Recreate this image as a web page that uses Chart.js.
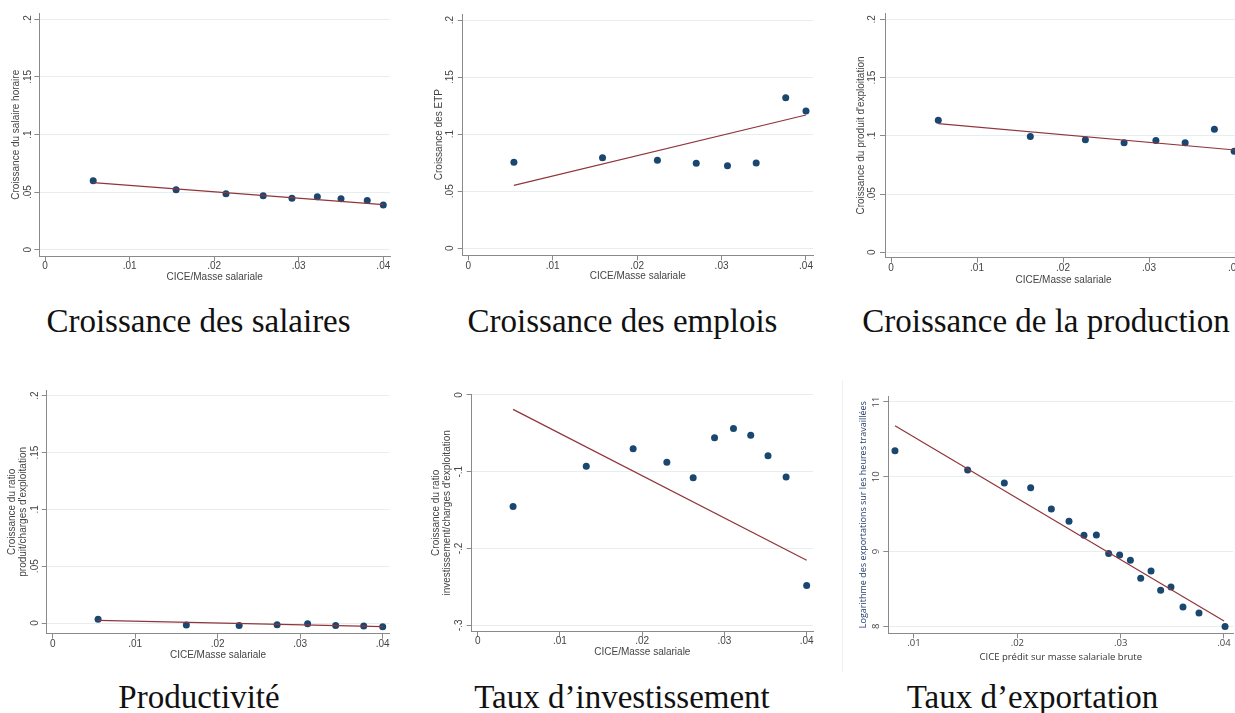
<!DOCTYPE html>
<html><head><meta charset="utf-8">
<script src="https://cdn.jsdelivr.net/npm/chart.js@4"></script>
<style>
html,body{margin:0;padding:0;background:#fff;overflow:hidden;width:1235px;height:713px;position:relative}
canvas{position:absolute}
.ttl{position:absolute;font-family:"Liberation Serif",serif;font-size:33px;line-height:33px;color:#111;white-space:nowrap;transform:translateX(-50%)}
.frame{position:absolute;left:842px;top:380px;width:1px;height:292px;background:#f0f0f0}
</style></head><body>
<div class="frame"></div>
<script>
// ---------- tick values / labels ----------
const xTicksCICE = [0, 0.01, 0.02, 0.03, 0.04];
const xLabelsCICE = ['0', '.01', '.02', '.03', '.04'];
const yTicksGrowth = [0, 0.05, 0.1, 0.15, 0.2];
const yLabelsGrowth = ['0', '.05', '.1', '.15', '.2'];
const yTicksInvest = [-0.3, -0.2, -0.1, 0];
const yLabelsInvest = ['-.3', '-.2', '-.1', '0'];
const xTicksExport = [0.01, 0.02, 0.03, 0.04];
const xLabelsExport = ['.01', '.02', '.03', '.04'];
const yTicksExport = [8, 9, 10, 11];
const yLabelsExport = ['8', '9', '10', '11'];

// ---------- series ----------
const salairesX = [0.0057, 0.0155, 0.0214, 0.0258, 0.0292, 0.0322, 0.0350, 0.0381, 0.0400];
const salairesY = [0.0599, 0.0521, 0.0486, 0.0469, 0.0446, 0.0460, 0.0443, 0.0428, 0.0388];
const salairesFitX = [0.0057, 0.0400];
const salairesFitY = [0.0582, 0.0391];

const emploisX = [0.0054, 0.0159, 0.0224, 0.0270, 0.0307, 0.0341, 0.0376, 0.0400];
const emploisY = [0.0753, 0.0794, 0.0771, 0.0745, 0.0724, 0.0747, 0.1320, 0.1203];
const emploisFitX = [0.0054, 0.0400];
const emploisFitY = [0.0552, 0.1168];

const productionX = [0.0055, 0.0162, 0.0226, 0.0271, 0.0308, 0.0342, 0.0376, 0.0399];
const productionY = [0.1133, 0.0993, 0.0967, 0.0941, 0.0959, 0.0941, 0.1056, 0.0867];
const productionFitX = [0.0055, 0.0400];
const productionFitY = [0.1104, 0.0878];

const productiviteX = [0.0055, 0.0162, 0.0226, 0.0272, 0.0309, 0.0343, 0.0377, 0.0400];
const productiviteY = [0.0032, -0.0018, -0.0021, -0.0015, -0.0006, -0.0023, -0.0026, -0.0032];
const productiviteFitX = [0.0055, 0.0400];
const productiviteFitY = [0.0023, -0.0032];

const investX = [0.0043, 0.0132, 0.0189, 0.0230, 0.0262, 0.0288, 0.0311, 0.0332, 0.0353, 0.0375, 0.0400];
const investY = [-0.1454, -0.0929, -0.0699, -0.0877, -0.1077, -0.0556, -0.0438, -0.0525, -0.0790, -0.1068, -0.2483];
const investFitX = [0.0043, 0.0400];
const investFitY = [-0.0187, -0.2153];

const exportX = [0.00816, 0.01519, 0.01874, 0.02129, 0.02329, 0.02500, 0.02645, 0.02765, 0.02884, 0.02990, 0.03094, 0.03194, 0.03294, 0.03387, 0.03487, 0.03603, 0.03758, 0.04010];
const exportY = [10.349, 10.091, 9.917, 9.854, 9.569, 9.404, 9.217, 9.221, 8.972, 8.954, 8.883, 8.642, 8.740, 8.481, 8.526, 8.259, 8.178, 7.996];
const exportFitX = [0.00816, 0.0400];
const exportFitY = [10.683, 8.071];

// ---------- texts ----------
const panelTitles = ['Croissance des salaires', 'Croissance des emplois', 'Croissance de la production',
                     'Productivité', 'Taux d’investissement', 'Taux d’exportation'];
const yTitles = ['Croissance du salaire horaire', 'Croissance des ETP', 'Croissance du produit d\'exploitation',
                 ['Croissance du ratio', 'produit/charges d\'exploitation'],
                 ['Croissance du ratio', 'investissement/charges d\'exploitation'],
                 'Logarithme des exportations sur les heures travaillées'];
const xTitles = ['CICE/Masse salariale', 'CICE/Masse salariale', 'CICE/Masse salariale',
                 'CICE/Masse salariale', 'CICE/Masse salariale', 'CICE prédit sur masse salariale brute'];

// ---------- layout (page pixels) ----------
const NAVY = '#1a476f', MAROON = '#90353b', GRID = '#e6eef0', AXIS = '#8a8a8a', TXT = '#444444';
const stataFont = {family: '"Liberation Sans", Arial, sans-serif', size: 10};
const winFont = {family: '"Open Sans", "Noto Sans", sans-serif', size: 9.5};

const panels = [
  {xs: salairesX, ys: salairesY, fx: salairesFitX, fy: salairesFitY, xt: xTicksCICE, xl: xLabelsCICE, yt: yTicksGrowth, yl: yLabelsGrowth,
   L: 39.3, T: 13.3, R: 390, B: 256.3, xMin: -0.000674, xMax: 0.040792, yMin: -0.00573, yMax: 0.20521,
   yTitleX: 16, yTickX: 28.3, xTickY: 266.7, xTitleY: 277.3, font: stataFont, lh: 1.2},
  {xs: emploisX, ys: emploisY, fx: emploisFitX, fy: emploisFitY, xt: xTicksCICE, xl: xLabelsCICE, yt: yTicksGrowth, yl: yLabelsGrowth,
   L: 462.7, T: 14, R: 813, B: 255.3, xMin: -0.000663, xMax: 0.04083, yMin: -0.00613, yMax: 0.20526,
   yTitleX: 439.3, yTickX: 450, xTickY: 266.7, xTitleY: 276.7, font: stataFont, lh: 1.2},
  {xs: productionX, ys: productionY, fx: productionFitX, fy: productionFitY, xt: xTicksCICE, xl: xLabelsCICE, yt: yTicksGrowth, yl: yLabelsGrowth,
   L: 885, T: 13.3, R: 1242, B: 257.7, xMin: -0.000698, xMax: 0.04081, yMin: -0.00464, yMax: 0.20515,
   yTitleX: 861.7, yTickX: 872.3, xTickY: 268.3, xTitleY: 280, font: stataFont, lh: 1.2},
  {xs: productiviteX, ys: productiviteY, fx: productiviteFitX, fy: productiviteFitY, xt: xTicksCICE, xl: xLabelsCICE, yt: yTicksGrowth, yl: yLabelsGrowth,
   L: 46.7, T: 390, R: 389.3, B: 633.7, xMin: -0.000727, xMax: 0.0408, yMin: -0.00941, yMax: 0.20502,
   yTitleX: 12.7, yTickX: 35.7, xTickY: 644, xTitleY: 655, font: stataFont, lh: 1.06},
  {xs: investX, ys: investY, fx: investFitX, fy: investFitY, xt: xTicksCICE, xl: xLabelsCICE, yt: yTicksInvest, yl: yLabelsInvest,
   L: 471.7, T: 394, R: 813, B: 631.7, xMin: -0.00073, xMax: 0.04077, yMin: -0.30834, yMax: 0.0013,
   yTitleX: 436.7, yTickX: 459.3, xTickY: 641.7, xTitleY: 652.7, font: stataFont, lh: 1.06},
  {xs: exportX, ys: exportY, fx: exportFitX, fy: exportFitY, xt: xTicksExport, xl: xLabelsExport, yt: yTicksExport, yl: yLabelsExport,
   L: 888.3, T: 396, R: 1233.3, B: 633.3, xMin: 0.007513, xMax: 0.0409, yMin: 7.9064, yMax: 11.08,
   yTitleX: 863.3, yTickX: 876.7, xTickY: 643.3, xTitleY: 657.3, font: winFont, lh: 1.2,
   yTitleFont: {family: '"Open Sans", "Noto Sans", sans-serif', size: 9}, yTitleColor: '#27416b', xTitleColor: '#333'}
];
const titlePos = [
  {cx: 198.5, top: 305}, {cx: 622.5, top: 305}, {cx: 1046, top: 305},
  {cx: 199, top: 681}, {cx: 622, top: 681}, {cx: 1032.5, top: 681}
];

const mctx = document.createElement('canvas').getContext('2d');
function widest(font, labels) {
  mctx.font = font.size + 'px ' + font.family;
  return Math.max(...labels.map(l => mctx.measureText(l).width));
}

const TL = 5;
panels.forEach((p, i) => {
  const yFont = p.yTitleFont || p.font;
  const lhY = yFont.size * p.lh;
  const lhX = p.font.size * 1.2;
  const CL = Math.floor(p.yTitleX - lhY / 2);
  const CT = Math.floor(p.T - 12);
  const CR = Math.ceil(p.R + 14);
  const CB = Math.ceil(p.xTitleY + lhX / 2);
  const W = CR - CL, H = CB - CT;
  const cv = document.createElement('canvas');
  cv.width = W; cv.height = H;
  cv.style.left = CL + 'px'; cv.style.top = CT + 'px';
  cv.style.width = W + 'px'; cv.style.height = H + 'px';
  document.body.appendChild(cv);

  const yAxisW = p.L - CL;
  const xAxisH = CB - p.B;
  const yTickPad = p.L - TL - widest(p.font, p.yl) / 2 - p.yTickX;
  const xTickPad = (p.xTickY - p.B) - TL - lhX / 2;
  const yTitlePad = (p.yTitleX - lhY / 2) - CL;
  const xTitlePad = CB - (p.xTitleY + lhX / 2);

  new Chart(cv, {
    type: 'scatter',
    data: {
      datasets: [
        {type: 'line', data: p.fx.map((x, k) => ({x, y: p.fy[k]})), borderColor: MAROON, borderWidth: 1.2,
         pointRadius: 0, fill: false, tension: 0},
        {data: p.xs.map((x, k) => ({x, y: p.ys[k]})), backgroundColor: NAVY, borderWidth: 0, pointRadius: 3.5}
      ]
    },
    options: {
      responsive: false, animation: false,
      layout: {autoPadding: false, padding: {left: 0, top: p.T - CT, right: CR - p.R, bottom: 0}},
      plugins: {legend: {display: false}, tooltip: {enabled: false}},
      scales: {
        x: {
          type: 'linear', min: p.xMin, max: p.xMax,
          afterBuildTicks: s => { s.ticks = p.xt.map(v => ({value: v})); },
          afterFit: s => { s.height = xAxisH; },
          grid: {drawOnChartArea: false, drawTicks: true, tickLength: TL, tickColor: AXIS, tickWidth: 1},
          border: {display: true, color: AXIS, width: 1},
          ticks: {autoSkip: false, maxRotation: 0, padding: xTickPad, color: TXT, font: p.font,
                  callback: v => p.xl[p.xt.indexOf(v)]},
          title: {display: true, text: xTitles[i], color: p.xTitleColor || TXT, font: p.font,
                  padding: {top: 0, bottom: xTitlePad}}
        },
        y: {
          type: 'linear', min: p.yMin, max: p.yMax,
          afterBuildTicks: s => { s.ticks = p.yt.map(v => ({value: v})); },
          afterFit: s => { s.width = yAxisW; },
          grid: {color: GRID, lineWidth: 1, drawTicks: true, tickLength: TL, tickColor: AXIS, tickWidth: 1},
          border: {display: true, color: AXIS, width: 1},
          ticks: {autoSkip: false, minRotation: 90, maxRotation: 90, crossAlign: 'center', padding: yTickPad,
                  color: TXT, font: p.font, callback: v => p.yl[p.yt.indexOf(v)]},
          title: {display: true, text: yTitles[i], color: p.yTitleColor || TXT,
                  font: Object.assign({}, yFont, {lineHeight: p.lh}),
                  padding: {top: yTitlePad, bottom: 0}}
        }
      }
    }
  });

  const d = document.createElement('div');
  d.className = 'ttl';
  d.textContent = panelTitles[i];
  d.style.left = titlePos[i].cx + 'px';
  d.style.top = titlePos[i].top + 'px';
  document.body.appendChild(d);
});
</script>
</body></html>
